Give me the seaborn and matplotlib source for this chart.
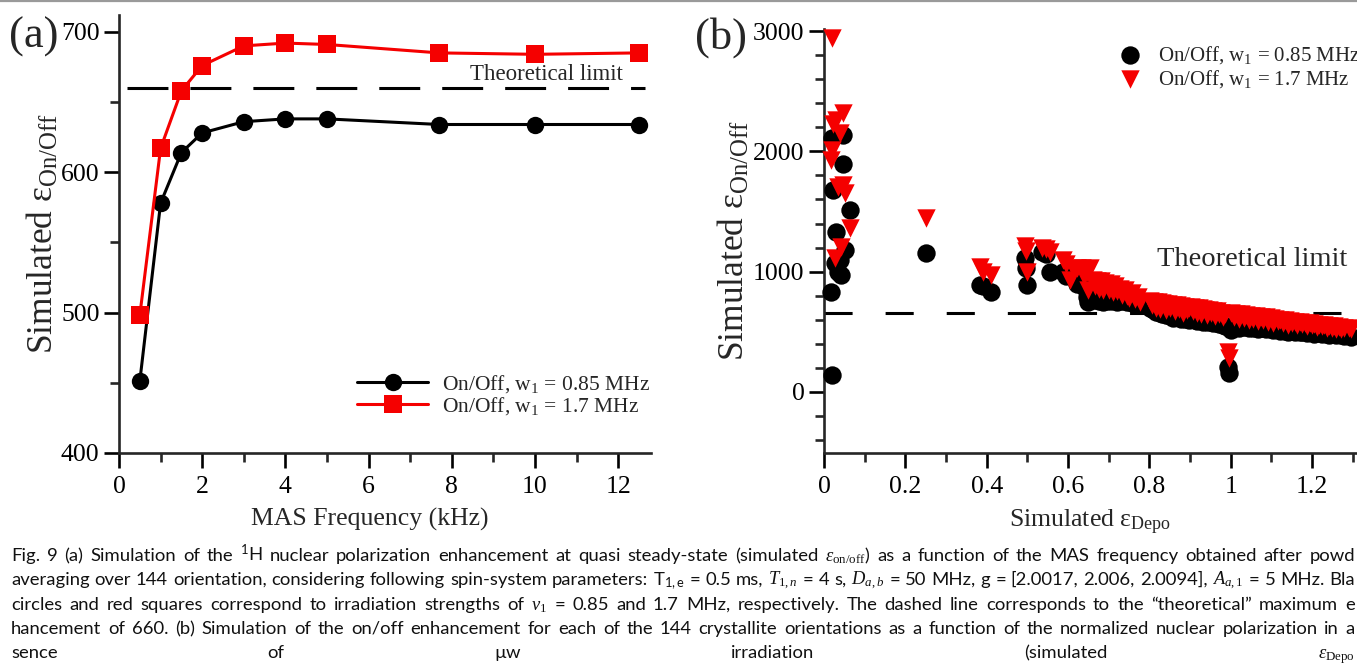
import matplotlib
matplotlib.use("Agg")
import matplotlib.pyplot as plt
import seaborn as sns
import pandas as pd
from matplotlib.ticker import MultipleLocator, FuncFormatter
from matplotlib.lines import Line2D

# ---------------- panel (a): enhancement vs MAS frequency ----------------
mas_khz = [0.5, 1, 1.5, 2, 3, 4, 5, 7.7, 10, 12.5]
onoff_w085 = [451, 578, 614, 628, 636, 638, 638, 634, 634, 634]
onoff_w17 = [498, 617, 658, 676, 690, 692, 691, 685, 684, 685]
theoretical_limit = 660

# ---------------- panel (b): per-crystallite enhancement vs eps_Depo ----------------
eps_depo = [
    # near-zero depolarisation
    0.017, 0.019, 0.020, 0.023, 0.027, 0.030, 0.035, 0.039, 0.043, 0.046, 0.047, 0.052, 0.064,
    # sparse middle
    0.252, 0.384, 0.391, 0.410, 0.494, 0.497, 0.500, 0.537, 0.546, 0.556, 0.588, 0.596,
    0.605, 0.614, 0.622, 0.634, 0.640, 0.646, 0.650, 0.654,
    0.662, 0.667, 0.671, 0.676, 0.681, 0.686, 0.690, 0.695, 0.700, 0.705, 0.710,
    0.715, 0.721, 0.727, 0.733, 0.739, 0.745, 0.751, 0.757, 0.764, 0.771, 0.778,
    0.802, 0.807, 0.812, 0.817, 0.822, 0.827, 0.832, 0.837, 0.842, 0.847,
    0.852, 0.857, 0.862, 0.867, 0.872, 0.877, 0.882, 0.887, 0.892, 0.897,
    0.902, 0.907, 0.912, 0.917, 0.922, 0.927, 0.932, 0.937, 0.942,
    0.947, 0.952, 0.957, 0.962, 0.967, 0.972, 0.977, 0.982, 0.987,
    0.994, 0.997,
    1.002, 1.008, 1.014, 1.020, 1.026, 1.032, 1.038, 1.044, 1.050, 1.056,
    1.062, 1.068, 1.074, 1.080, 1.086, 1.092, 1.098, 1.104, 1.110, 1.116,
    1.122, 1.128, 1.134, 1.140, 1.146, 1.152, 1.158, 1.164, 1.170, 1.176,
    1.182, 1.188, 1.194, 1.200, 1.206, 1.212, 1.218, 1.224, 1.230, 1.236,
    1.242, 1.248, 1.254, 1.260, 1.266, 1.272, 1.278, 1.290, 1.296,
]
enh_w085 = [
    834, 2108, 141, 1679, 1072, 1332, 1000, 1100, 972, 1895, 2136, 1180, 1512,
    1155, 890, 880, 835, 1115, 1030, 890, 1160, 1150, 1000, 1000, 960,
    985, 960, 900, 903, 870, 790, 750, 770,
    790, 765, 785, 760, 775, 750, 770, 760, 785, 755, 770,
    775, 750, 765, 755, 775, 745, 760, 740, 755, 735, 725,
    700, 690, 680, 665, 675, 660, 650, 655, 640, 645,
    630, 615, 625, 620, 630, 610, 620, 605, 615, 600,
    605, 615, 600, 590, 610, 595, 585, 600, 580,
    590, 585, 570, 580, 575, 565, 570, 555, 545,
    205, 160,
    515, 540, 550, 535, 545, 540, 550, 530, 545, 535,
    540, 525, 535, 530, 520, 530, 525, 515, 525, 520,
    510, 520, 505, 500, 510, 505, 500, 510, 495, 500,
    505, 490, 500, 495, 485, 495, 490, 480, 490, 485,
    475, 485, 480, 470, 480, 475, 465, 470, 460,
]
enh_w17 = [
    1928, 2011, 2939, 2230, 1110, 2260, 1700, 2150, 1208, 1720, 2316, 1650, 1360,
    1446, 1040, 1000, 970, 1210, 1170, 1000, 1200, 1185, 1165, 1097, 1060,
    931, 1010, 1030, 1028, 960, 1000, 848, 1028,
    930, 880, 920, 860, 925, 850, 910, 890, 845, 900, 830,
    880, 840, 860, 810, 850, 800, 780, 820, 770, 790, 750,
    760, 720, 750, 700, 745, 690, 740, 730, 680, 735,
    700, 725, 670, 720, 690, 715, 660, 705, 680, 700,
    710, 670, 700, 660, 695, 650, 690, 680, 640,
    685, 660, 675, 630, 670, 650, 660, 620, 645,
    333, 285,
    660, 625, 650, 610, 645, 615, 640, 595, 635, 605,
    630, 590, 625, 600, 620, 585, 615, 575, 610, 590,
    600, 570, 595, 560, 590, 575, 585, 555, 580, 565,
    575, 545, 570, 555, 565, 540, 560, 545, 555, 530,
    550, 535, 545, 520, 540, 525, 535, 530, 520,
]

label_085 = "On/Off, w$_{\\mathregular{1}}$ = 0.85 MHz"
label_17 = "On/Off, w$_{\\mathregular{1}}$ = 1.7 MHz"

# caption lines as they appear on the page (the page edge cuts the last word)
caption_lines = [
    "Fig. 9 (a) Simulation of the $^{\\mathregular{1}}$H nuclear polarization enhancement at quasi "
    "steady-state (simulated $\\epsilon_{\\mathrm{on/off}}$) as a function of the MAS frequency "
    "obtained after powd",
    "averaging over 144 orientation, considering following spin-system parameters: "
    "T$_{\\mathregular{1,e}}$ = 0.5 ms, $T_{1,n}$ = 4 s, $D_{a,b}$ = 50 MHz, "
    "g = [2.0017, 2.006, 2.0094], $A_{a,1}$ = 5 MHz. Bla",
    "circles and red squares correspond to irradiation strengths of $\\nu_1$ = 0.85 and 1.7 MHz, "
    "respectively. The dashed line corresponds to the \u201ctheoretical\u201d maximum e",
    "hancement of 660. (b) Simulation of the on/off enhancement for each of the 144 crystallite "
    "orientations as a function of the normalized nuclear polarization in a",
    "sence of \u00b5w irradiation (simulated $\\epsilon_{\\mathrm{Depo}}$",
]
caption_base_y = [561, 585, 610, 634, 658]

# ---------------- styling ----------------
sns.set_style("ticks")
plt.rcParams["font.family"] = ["Liberation Serif", "DejaVu Serif"]
plt.rcParams["mathtext.fontset"] = "custom"
plt.rcParams["mathtext.rm"] = "Liberation Serif"
plt.rcParams["mathtext.it"] = "Liberation Serif:italic"
plt.rcParams["mathtext.bf"] = "Liberation Serif:bold"

W, H, DPI = 1357, 663, 100
RED = "#f50000"
LW = 1.9
TICK_FS = 18.5
fig = plt.figure(figsize=(W / DPI, H / DPI), dpi=DPI)
fig.patch.set_facecolor("white")


def rect(left, top, right, bottom):
    return [left / W, 1 - bottom / H, (right - left) / W, (bottom - top) / H]


def style_axes(ax):
    for side in ("top", "right"):
        ax.spines[side].set_visible(False)
    for side in ("left", "bottom"):
        ax.spines[side].set_linewidth(LW)
    ax.tick_params(which="major", direction="out", length=10.5, width=LW,
                   labelsize=TICK_FS, colors="black")
    ax.tick_params(which="minor", direction="out", length=6.5, width=LW)
    ax.tick_params(axis="x", which="major", pad=6)
    ax.tick_params(axis="y", which="major", pad=3.5)
    ax.xaxis.set_major_formatter(FuncFormatter(lambda v, p: f"{v:g}"))
    ax.set_facecolor("white")
    ax.grid(False)


# ---- panel (a) ----
ax_a = fig.add_axes(rect(119, 15, 651, 453))
sns.lineplot(x=mas_khz, y=onoff_w085, ax=ax_a, color="black", linewidth=2.2,
             marker="o", markersize=12.5, markeredgewidth=0, label=label_085)
sns.lineplot(x=mas_khz, y=onoff_w17, ax=ax_a, color=RED, linewidth=2.2,
             marker="s", markersize=13, markeredgewidth=0, label=label_17)
ax_a.plot([0.2, 12.65], [theoretical_limit] * 2, color="black", lw=2.2,
          dashes=(13.4, 7.2), zorder=1)
ax_a.text(470 / W, 1 - 74 / H, "Theoretical limit", transform=fig.transFigure,
          fontsize=16.5, va="center", ha="left")
ax_a.set_xlim(0, 12.79)
ax_a.set_ylim(400, 712)
ax_a.xaxis.set_major_locator(MultipleLocator(2))
ax_a.xaxis.set_minor_locator(MultipleLocator(1))
ax_a.yaxis.set_major_locator(MultipleLocator(100))
ax_a.yaxis.set_minor_locator(MultipleLocator(50))
style_axes(ax_a)
ax_a.set_xlabel("MAS Frequency (kHz)", fontsize=18.5)
ax_a.set_ylabel("Simulated \u03b5$_{\\mathregular{On/Off}}$", fontsize=25.5)
ax_a.xaxis.set_label_coords((370 - 119) / 532, -0.125)
ax_a.yaxis.set_label_coords(-0.11, 0.5)
ax_a.legend(loc="upper left", bbox_to_anchor=((357 - 119) / 532, (453 - 373) / 438),
            frameon=False, fontsize=15.5, handlelength=3.3, handletextpad=0.65,
            borderpad=0, borderaxespad=0, labelspacing=0.02, numpoints=1)

# ---- panel (b) ----
ax_b = fig.add_axes(rect(824, 29, 1357, 453))
df_b = pd.DataFrame({"eps_depo": eps_depo, "w085": enh_w085, "w17": enh_w17})
sns.scatterplot(data=df_b, x="eps_depo", y="w085", ax=ax_b, color="black",
                marker="o", s=175, linewidth=0, label=label_085, clip_on=False, zorder=3)
sns.scatterplot(data=df_b, x="eps_depo", y="w17", ax=ax_b, color=RED,
                marker="v", s=175, linewidth=0, label=label_17, clip_on=False, zorder=4)
ax_b.plot([0, 1.32], [theoretical_limit] * 2, color="black", lw=2.2,
          dashes=(9.2, 10.8), zorder=2)
ax_b.text(1157 / W, 1 - 260 / H, "Theoretical limit", transform=fig.transFigure,
          fontsize=20.5, va="center", ha="left")
ax_b.set_xlim(0, 1.3106)
ax_b.set_ylim(-507, 3017)
ax_b.xaxis.set_major_locator(MultipleLocator(0.2))
ax_b.xaxis.set_minor_locator(MultipleLocator(0.1))
ax_b.yaxis.set_major_locator(MultipleLocator(1000))
ax_b.yaxis.set_minor_locator(MultipleLocator(200))
style_axes(ax_b)
ax_b.set_xlabel("Simulated \u03b5$_{\\mathregular{Depo}}$", fontsize=18.5)
ax_b.set_ylabel("Simulated \u03b5$_{\\mathregular{On/Off}}$", fontsize=25.5)
ax_b.xaxis.set_label_coords(0.5, -0.13)
ax_b.yaxis.set_label_coords(-0.135, 0.5)
ax_b.legend(loc="upper left", bbox_to_anchor=((1120 - 824) / 533, (453 - 44) / 424),
            frameon=False, fontsize=15, handlelength=1.0, handletextpad=0.8,
            borderpad=0, borderaxespad=0, labelspacing=0.1, scatterpoints=1)

# panel letters
fig.text(9 / W, 1 - 37 / H, "(a)", fontsize=32, va="center", ha="left")
fig.text(695 / W, 1 - 38 / H, "(b)", fontsize=32, va="center", ha="left")

# thin rule along the top edge
fig.add_artist(Line2D([0, 1], [1 - 1.2 / H] * 2, transform=fig.transFigure,
                      color="#9a9a9a", lw=1.6))

# ---------------- justified caption ----------------
renderer = fig.canvas.get_renderer()
cap_family = ["Lato", "DejaVu Sans"]
x_left, x_right = 11, 1355


def measure(s, size):
    t = fig.text(0, 0, s, fontsize=size, family=cap_family)
    w = t.get_window_extent(renderer).width
    t.remove()
    return w


# pick the largest size for which every full line fits with ordinary word spacing
probe = 10.0
space_w = measure("a a", probe) - measure("aa", probe)
fits = []
for line in caption_lines[:4]:
    words = line.split(" ")
    natural = sum(measure(w, probe) for w in words) + space_w * (len(words) - 1)
    fits.append(probe * (x_right - x_left) / natural)
cap_size = min(min(fits) * 0.995, 14.5)

cap_kw = dict(fontsize=cap_size, family=cap_family, va="baseline", ha="left",
              color="#111111")
for i, (line, y_base) in enumerate(zip(caption_lines, caption_base_y)):
    words = line.split(" ")
    texts = [fig.text(0, 1 - y_base / H, w, **cap_kw) for w in words]
    widths = [t.get_window_extent(renderer).width for t in texts]
    if i < 4:
        gap = (x_right - x_left - sum(widths)) / (len(words) - 1)
    else:
        # final line: last word begins near the right margin
        gap = (1318 - x_left - sum(widths[:-1])) / (len(words) - 1)
    x = x_left
    for t, w in zip(texts, widths):
        t.set_x(x / W)
        x += w + gap

fig.savefig("out.png", dpi=DPI, facecolor="white")
